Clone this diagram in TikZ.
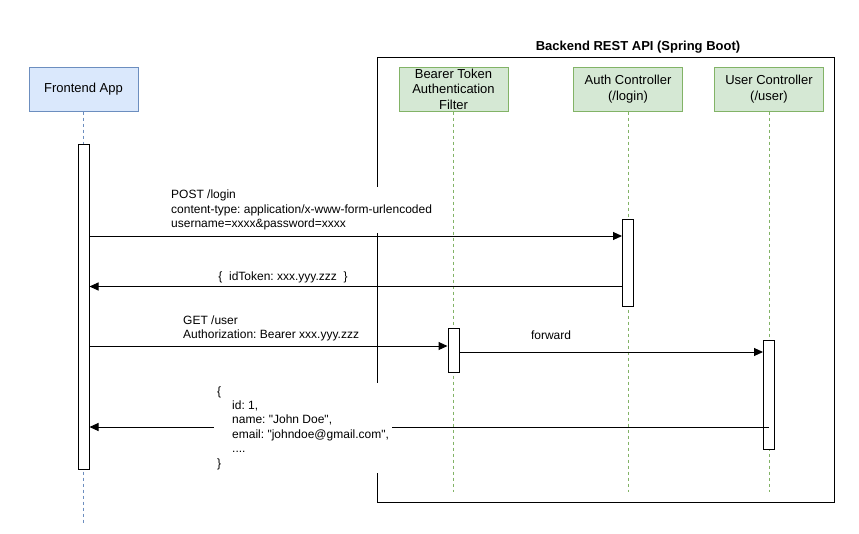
\documentclass[tikz,border=0pt]{standalone}
\usepackage{fontspec}
\setmainfont{Liberation Sans}[Ligatures=TeXOff]
\usetikzlibrary{arrows.meta, positioning, calc}
\definecolor{fefill}{HTML}{DAE8FC}
\definecolor{feline}{HTML}{6C8EBF}
\definecolor{befill}{HTML}{D5E8D4}
\definecolor{beline}{HTML}{82B366}
\frenchspacing

\begin{document}
\begin{tikzpicture}[
    x=1pt, y=-1pt,
    every node/.style={font=\fontsize{12}{14.4}\selectfont},
    party/.style={draw, line width=1pt, minimum width=109pt, minimum height=44pt,
        inner sep=0pt, align=center, font=\fontsize{13}{15.6}\selectfont},
    act/.style={draw, line width=1pt, fill=white, minimum width=11pt, inner sep=0pt},
    life/.style={line width=0.8pt, dash pattern=on 3pt off 3pt},
    msg/.style={line width=1pt, -{Triangle[length=9pt, width=8pt]}},
    lab/.style={align=left, inner sep=3pt},
]
\useasboundingbox (0,0) rectangle (859,533);

% backend frame
\draw[line width=1pt] (377,57) rectangle (834,502);
\node[font=\fontsize{13}{15.6}\selectfont\bfseries] (api) at (638,47) {Backend REST API (Spring Boot)};

% participants
\node[party, fill=fefill, draw=feline] (fe) at (83.5,89) {Frontend App};
\node[party, fill=befill, draw=beline] (filter) at (453.5,89) {Bearer Token\\Authentication\\Filter};
\node[party, fill=befill, draw=beline] (auth) at (628,89) {Auth Controller\\(/login)};
\node[party, fill=befill, draw=beline] (user) at (769,89) {User Controller\\(/user)};

% lifelines
\coordinate (feend) at (83.5,525);
\coordinate (beend) at (0,492);
\draw[life, feline] (fe.south) -- (feend);
\foreach \p in {filter, auth, user}{
    \draw[life, beline] (\p.south) -- (\p.south |- beend);
}

% activations
\node[act, minimum height=325pt] (feact) at (83.5,306.5) {};
\node[act, minimum height=87pt] (authact) at (628,262.5) {};
\node[act, minimum height=44pt] (filteract) at (453.5,350) {};
\node[act, minimum height=109pt] (useract) at (769,394.5) {};

% messages
\coordinate (post) at (0,236);
\coordinate (token) at (0,286.5);
\coordinate (get) at (0,346);
\coordinate (fwd) at (0,352);
\coordinate (resp) at (0,427);
\draw[msg] (feact.east |- post) -- (authact.west |- post);
\draw[msg] (authact.west |- token) -- (feact.east |- token);
\draw[msg] (feact.east |- get) -- (filteract.west |- get);
\draw[msg] (filteract.east |- fwd) -- (useract.west |- fwd);
\draw[msg] (useract.center |- resp) -- (feact.east |- resp);

% labels
\node[lab, fill=white, anchor=west] (postlab) at (168,210)
    {POST /login\\content-type: application/x-www-form-urlencoded\\username=xxxx\&password=xxxx};
\node (tokenlab) at (283,277) {\{\ \ idToken: xxx.yyy.zzz\ \ \}};
\node[lab, anchor=west] (getlab) at (180,328.5)
    {GET /user\\Authorization: Bearer xxx.yyy.zzz};
\node (fwdlab) at (551,335) {forward};
\node[lab, fill=white, anchor=west] (resplab) at (214,428)
    {\{\\\hspace*{15pt}id: 1,\\\hspace*{15pt}name: "John Doe",\\\hspace*{15pt}email: "johndoe@gmail.com",\\\hspace*{15pt}....\\\}};

\end{tikzpicture}
\end{document}
